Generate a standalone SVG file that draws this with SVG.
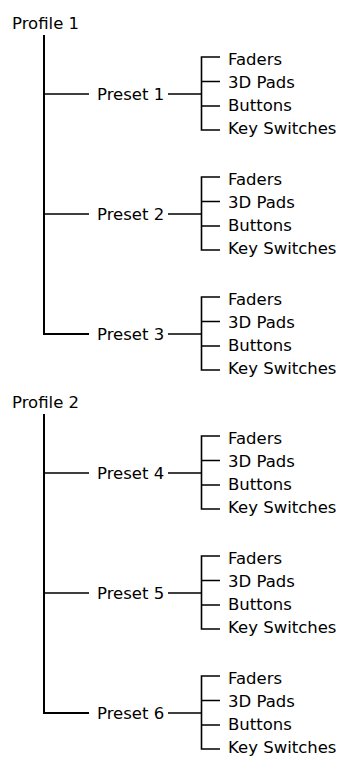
<svg xmlns="http://www.w3.org/2000/svg" width="342" height="760" viewBox="0 0 342 760">
<style>
text{font-family:"DejaVu Sans","Verdana",sans-serif;font-size:16.5px;fill:#000}
.m{stroke:#000;stroke-width:2;fill:none}
.c{stroke:#000;stroke-width:1.6;fill:none}
</style>
<rect width="342" height="760" fill="#fff"/>
<g id="connectors">
<path class="m" d="M44,35V334H89"/>
<path class="c" d="M44,94H89M44,214H89"/>
<path class="m" d="M44,414V713H89"/>
<path class="c" d="M44,473H89M44,593H89"/>
<g id="brackets">
<path class="c" d="M168,94H201.5M220,57H201.5V130H220M201.5,81.5H220M201.5,106H220"/>
<path class="c" d="M168,214H201.5M220,177H201.5V250H220M201.5,201.5H220M201.5,226H220"/>
<path class="c" d="M168,334H201.5M220,297H201.5V370H220M201.5,321.5H220M201.5,346H220"/>
<path class="c" d="M168,473H201.5M220,436H201.5V509H220M201.5,460.5H220M201.5,485H220"/>
<path class="c" d="M168,593H201.5M220,556H201.5V629H220M201.5,580.5H220M201.5,605H220"/>
<path class="c" d="M168,713H201.5M220,676H201.5V749H220M201.5,700.5H220M201.5,725H220"/>
</g>
</g>
<g id="profile1"><text x="12" y="29">Profile 1</text></g>
<g id="profile2"><text x="12" y="408">Profile 2</text></g>
<g id="preset1"><text x="97" y="100">Preset 1</text></g>
<g id="preset2"><text x="97" y="220">Preset 2</text></g>
<g id="preset3"><text x="97" y="340">Preset 3</text></g>
<g id="preset4"><text x="97" y="479">Preset 4</text></g>
<g id="preset5"><text x="97" y="599">Preset 5</text></g>
<g id="preset6"><text x="97" y="719">Preset 6</text></g>
<g id="items1"><text x="228" y="65">Faders</text><text x="228" y="88">3D Pads</text><text x="228" y="111">Buttons</text><text x="228" y="134">Key Switches</text></g>
<g id="items2"><text x="228" y="185">Faders</text><text x="228" y="208">3D Pads</text><text x="228" y="231">Buttons</text><text x="228" y="254">Key Switches</text></g>
<g id="items3"><text x="228" y="305">Faders</text><text x="228" y="328">3D Pads</text><text x="228" y="351">Buttons</text><text x="228" y="374">Key Switches</text></g>
<g id="items4"><text x="228" y="444">Faders</text><text x="228" y="467">3D Pads</text><text x="228" y="490">Buttons</text><text x="228" y="513">Key Switches</text></g>
<g id="items5"><text x="228" y="564">Faders</text><text x="228" y="587">3D Pads</text><text x="228" y="610">Buttons</text><text x="228" y="633">Key Switches</text></g>
<g id="items6"><text x="228" y="684">Faders</text><text x="228" y="707">3D Pads</text><text x="228" y="730">Buttons</text><text x="228" y="753">Key Switches</text></g>
</svg>
